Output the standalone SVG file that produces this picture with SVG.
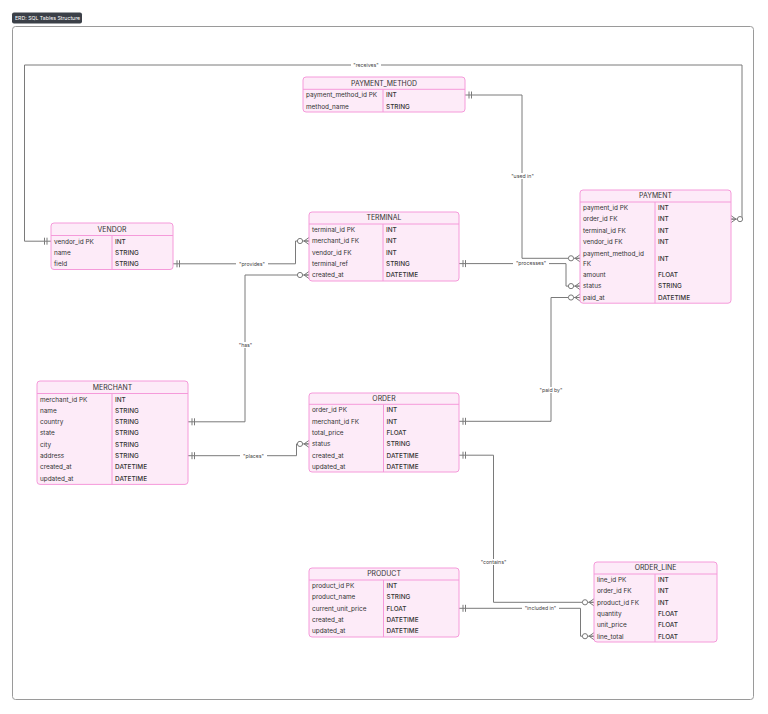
<svg xmlns="http://www.w3.org/2000/svg" width="768" height="714" viewBox="0 0 768 714">
<style>
.bg{fill:#ffffff}
.frame{fill:#ffffff;stroke:#9a9a9a;stroke-width:1}
.box{fill:#fdebf8;stroke:#f59ada;stroke-width:1}
.div{stroke:#f59ada;stroke-width:1;fill:none}
.t{font-family:Inter,"Liberation Sans",sans-serif;font-size:6.4px;fill:#333}
.ty{font-weight:500}
.h{font-size:6.9px;text-anchor:middle;fill:#333}
.e{stroke:#7a7a7a;stroke-width:1;fill:none;marker-start:url(#one);marker-end:url(#crow)}
.lb{fill:#ffffff}
.lt{font-family:Inter,"Liberation Sans",sans-serif;font-size:5.2px;text-anchor:middle;fill:#444}
.badge{fill:#3b4048}
.bt{font-family:Inter,"Liberation Sans",sans-serif;font-size:5.2px;fill:#ffffff}
</style>
<defs>
<marker id="crow" markerUnits="userSpaceOnUse" markerWidth="14" markerHeight="10" viewBox="0 0 14 10" refX="13" refY="5" orient="auto-start-reverse" overflow="visible">
<circle cx="4" cy="5" r="2.6" fill="#ffffff" stroke="#7a7a7a" stroke-width="1"/>
<path d="M8,5 L13,1.5 M8,5 L13,5 M8,5 L13,8.5" fill="none" stroke="#7a7a7a" stroke-width="1"/>
</marker>
<marker id="one" markerUnits="userSpaceOnUse" markerWidth="14" markerHeight="10" viewBox="0 0 14 10" refX="13" refY="5" orient="auto-start-reverse" overflow="visible">
<path d="M9,1.5 V8.5 M6.5,1.5 V8.5" fill="none" stroke="#7a7a7a" stroke-width="1"/>
</marker>
</defs>
<rect class="bg" x="0" y="0" width="768" height="714"/>
<g id="title">
<rect class="badge" x="12" y="12.5" width="70" height="11" rx="2"/>
<text class="bt" x="15" y="19.8">ERD: SQL Tables Structure</text>
</g>
<rect class="frame" x="12.5" y="26.5" width="741" height="673" rx="3"/>

<g id="connectors">
<path class="e" d="M51,241.2 H24.5 V65 H742 V219.1 H731"/>
<path class="e" d="M465,95 H522 V258.3 H580"/>
<path class="e" d="M173,263.8 H295.5 V241 H309"/>
<path class="e" d="M188,421.8 H245 V275 H309"/>
<path class="e" d="M459,263.6 H566 V286.1 H580"/>
<path class="e" d="M459,421.3 H551 V297.5 H580"/>
<path class="e" d="M188,455.7 H296.5 V443.9 H309"/>
<path class="e" d="M459,455.2 H493.5 V602.3 H594"/>
<path class="e" d="M459,608.3 H580.5 V636.2 H594"/>
<g id="labels">
<rect class="lb" x="351" y="62" width="30" height="6"/><text class="lt" x="366" y="66.8">"receives"</text>
<rect class="lb" x="509" y="173" width="27" height="6"/><text class="lt" x="522.5" y="177.8">"used in"</text>
<rect class="lb" x="236" y="261" width="32" height="6"/><text class="lt" x="252" y="265.6">"provides"</text>
<rect class="lb" x="237" y="342" width="17" height="6"/><text class="lt" x="245.5" y="346.8">"has"</text>
<rect class="lb" x="513" y="261" width="36" height="6"/><text class="lt" x="531" y="265.4">"processes"</text>
<rect class="lb" x="538" y="387" width="26" height="6"/><text class="lt" x="551" y="391.8">"paid by"</text>
<rect class="lb" x="240" y="453" width="27" height="6"/><text class="lt" x="253.5" y="457.5">"places"</text>
<rect class="lb" x="478" y="559" width="31" height="6"/><text class="lt" x="493.5" y="563.8">"contains"</text>
<rect class="lb" x="522" y="605.5" width="37" height="6"/><text class="lt" x="540.5" y="610.1">"included in"</text>
</g>
</g>

<g id="PAYMENT_METHOD">
<rect class="box" x="303" y="77" width="162" height="35" rx="3"/>
<path class="div" d="M303,89.3 H465 M383,89.3 V112"/>
<text class="t h" x="384" y="85.6">PAYMENT_METHOD</text>
<text class="t" x="306" y="97.3">payment_method_id PK</text><text class="t ty" x="386" y="97.3">INT</text>
<text class="t" x="306" y="108.6">method_name</text><text class="t ty" x="386" y="108.6">STRING</text>
</g>

<g id="VENDOR">
<rect class="box" x="51" y="223" width="122" height="46.5" rx="3"/>
<path class="div" d="M51,235.5 H173 M112,235.5 V269.5"/>
<text class="t h" x="112" y="231.6">VENDOR</text>
<text class="t" x="54" y="243.5">vendor_id PK</text><text class="t ty" x="115" y="243.5">INT</text>
<text class="t" x="54" y="254.8">name</text><text class="t ty" x="115" y="254.8">STRING</text>
<text class="t" x="54" y="266.1">field</text><text class="t ty" x="115" y="266.1">STRING</text>
</g>

<g id="TERMINAL">
<rect class="box" x="309" y="212" width="150" height="69" rx="3"/>
<path class="div" d="M309,224 H459 M383,224 V281"/>
<text class="t h" x="384" y="220.4">TERMINAL</text>
<text class="t" x="312" y="232">terminal_id PK</text><text class="t ty" x="386" y="232">INT</text>
<text class="t" x="312" y="243.3">merchant_id FK</text><text class="t ty" x="386" y="243.3">INT</text>
<text class="t" x="312" y="254.6">vendor_id FK</text><text class="t ty" x="386" y="254.6">INT</text>
<text class="t" x="312" y="265.9">terminal_ref</text><text class="t ty" x="386" y="265.9">STRING</text>
<text class="t" x="312" y="277.3">created_at</text><text class="t ty" x="386" y="277.3">DATETIME</text>
</g>

<g id="PAYMENT">
<rect class="box" x="580" y="190" width="151" height="113.2" rx="3"/>
<path class="div" d="M580,202 H731 M655,202 V303.2"/>
<text class="t h" x="655.5" y="198.4">PAYMENT</text>
<text class="t" x="583" y="210">payment_id PK</text><text class="t ty" x="658" y="210">INT</text>
<text class="t" x="583" y="221.4">order_id FK</text><text class="t ty" x="658" y="221.4">INT</text>
<text class="t" x="583" y="232.8">terminal_id FK</text><text class="t ty" x="658" y="232.8">INT</text>
<text class="t" x="583" y="244.2">vendor_id FK</text><text class="t ty" x="658" y="244.2">INT</text>
<text class="t" x="583" y="255.5">payment_method_id</text><text class="t" x="583" y="265.5">FK</text><text class="t ty" x="658" y="260.6">INT</text>
<text class="t" x="583" y="277">amount</text><text class="t ty" x="658" y="277">FLOAT</text>
<text class="t" x="583" y="288.4">status</text><text class="t ty" x="658" y="288.4">STRING</text>
<text class="t" x="583" y="299.8">paid_at</text><text class="t ty" x="658" y="299.8">DATETIME</text>
</g>

<g id="MERCHANT">
<rect class="box" x="37" y="381" width="151" height="103.4" rx="3"/>
<path class="div" d="M37,393.5 H188 M112,393.5 V484.4"/>
<text class="t h" x="112.5" y="389.6">MERCHANT</text>
<text class="t" x="40" y="401.5">merchant_id PK</text><text class="t ty" x="115" y="401.5">INT</text>
<text class="t" x="40" y="412.8">name</text><text class="t ty" x="115" y="412.8">STRING</text>
<text class="t" x="40" y="424.1">country</text><text class="t ty" x="115" y="424.1">STRING</text>
<text class="t" x="40" y="435.4">state</text><text class="t ty" x="115" y="435.4">STRING</text>
<text class="t" x="40" y="446.7">city</text><text class="t ty" x="115" y="446.7">STRING</text>
<text class="t" x="40" y="458">address</text><text class="t ty" x="115" y="458">STRING</text>
<text class="t" x="40" y="469.3">created_at</text><text class="t ty" x="115" y="469.3">DATETIME</text>
<text class="t" x="40" y="480.6">updated_at</text><text class="t ty" x="115" y="480.6">DATETIME</text>
</g>

<g id="ORDER">
<rect class="box" x="309" y="393" width="150" height="79" rx="3"/>
<path class="div" d="M309,404.3 H459 M383.5,404.3 V472"/>
<text class="t h" x="384" y="401">ORDER</text>
<text class="t" x="312" y="412.3">order_id PK</text><text class="t ty" x="386.5" y="412.3">INT</text>
<text class="t" x="312" y="423.6">merchant_id FK</text><text class="t ty" x="386.5" y="423.6">INT</text>
<text class="t" x="312" y="434.9">total_price</text><text class="t ty" x="386.5" y="434.9">FLOAT</text>
<text class="t" x="312" y="446.2">status</text><text class="t ty" x="386.5" y="446.2">STRING</text>
<text class="t" x="312" y="457.5">created_at</text><text class="t ty" x="386.5" y="457.5">DATETIME</text>
<text class="t" x="312" y="468.8">updated_at</text><text class="t ty" x="386.5" y="468.8">DATETIME</text>
</g>

<g id="PRODUCT">
<rect class="box" x="309" y="568" width="150" height="69" rx="3"/>
<path class="div" d="M309,580 H459 M383.5,580 V637"/>
<text class="t h" x="384" y="576.4">PRODUCT</text>
<text class="t" x="312" y="588">product_id PK</text><text class="t ty" x="386.5" y="588">INT</text>
<text class="t" x="312" y="599.3">product_name</text><text class="t ty" x="386.5" y="599.3">STRING</text>
<text class="t" x="312" y="610.6">current_unit_price</text><text class="t ty" x="386.5" y="610.6">FLOAT</text>
<text class="t" x="312" y="621.9">created_at</text><text class="t ty" x="386.5" y="621.9">DATETIME</text>
<text class="t" x="312" y="633.2">updated_at</text><text class="t ty" x="386.5" y="633.2">DATETIME</text>
</g>

<g id="ORDER_LINE">
<rect class="box" x="594" y="562" width="123" height="80" rx="3"/>
<path class="div" d="M594,574 H717 M655,574 V642"/>
<text class="t h" x="655.5" y="570.4">ORDER_LINE</text>
<text class="t" x="597" y="582">line_id PK</text><text class="t ty" x="658" y="582">INT</text>
<text class="t" x="597" y="593.3">order_id FK</text><text class="t ty" x="658" y="593.3">INT</text>
<text class="t" x="597" y="604.6">product_id FK</text><text class="t ty" x="658" y="604.6">INT</text>
<text class="t" x="597" y="615.9">quantity</text><text class="t ty" x="658" y="615.9">FLOAT</text>
<text class="t" x="597" y="627.2">unit_price</text><text class="t ty" x="658" y="627.2">FLOAT</text>
<text class="t" x="597" y="638.5">line_total</text><text class="t ty" x="658" y="638.5">FLOAT</text>
</g>
</svg>
